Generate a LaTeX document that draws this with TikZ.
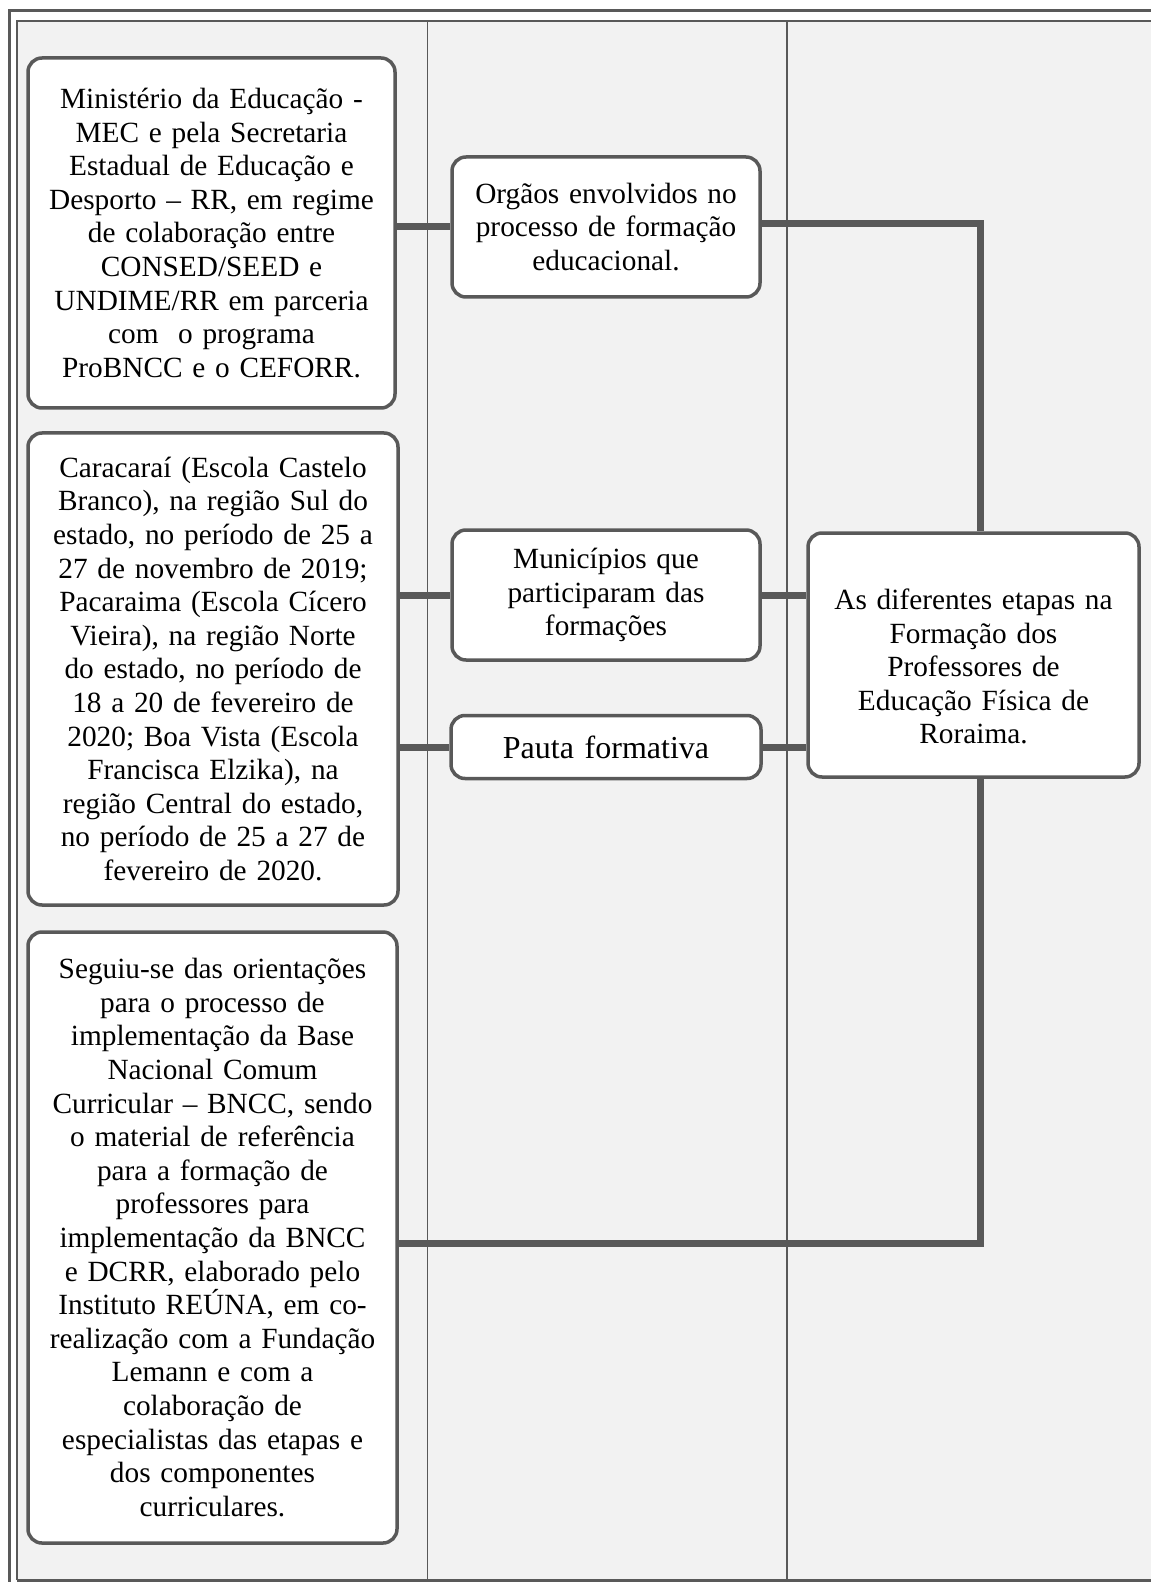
\documentclass[tikz,border=0pt]{standalone}
\usepackage{fontspec}
\setmainfont{Liberation Serif}
\usetikzlibrary{positioning,calc}
\definecolor{linegray}{HTML}{595959}
\definecolor{panelgray}{HTML}{F2F2F2}

\begin{document}
\begin{tikzpicture}[x=0.5pt, y=-0.5pt,
    box/.style={rectangle, draw=linegray, line width=1.75pt, rounded corners=7pt, fill=white,
        align=center, inner xsep=4pt, inner ysep=0pt, font=\fontsize{14.65}{16.8}\selectfont},
    link/.style={draw=linegray, line width=3.5pt}]
    \useasboundingbox (0,0) rectangle (1151,1582);

    % Frame and columns
    \fill[panelgray] (17,21) rectangle (1151,1580);
    \draw[linegray, line width=1.5pt] (9,1582) -- (9,11) -- (1151,11);
    \draw[linegray, line width=1pt] (17,1580) -- (17,21) -- (1151,21);
    \draw[linegray, line width=1.25pt] (17,1580.5) -- (1151,1580.5);
    \draw[linegray, line width=0.75pt] (427.5,21) -- (427.5,1580);
    \draw[linegray, line width=0.75pt] (787,21) -- (787,1580);

    % Nodes
    \node (mec) [box, text width=175.5pt, minimum height=175pt] at (211.5,233) {Ministério da Educação -\\ MEC e pela Secretaria\\ Estadual de Educação e\\ Desporto – RR, em regime\\ de colaboração entre\\ CONSED/SEED e\\ UNDIME/RR em parceria\\ com\ \ o programa\\ ProBNCC e o CEFORR.};
    \node (caracarai) [box, text width=177pt, minimum height=236pt] at (213,669) {Caracaraí (Escola Castelo\\ Branco), na região Sul do\\ estado, no período de 25 a\\ 27 de novembro de 2019;\\ Pacaraima (Escola Cícero\\ Vieira), na região Norte\\ do estado, no período de\\ 18 a 20 de fevereiro de\\ 2020; Boa Vista (Escola\\ Francisca Elzika), na\\ região Central do estado,\\ no período de 25 a 27 de\\ fevereiro de 2020.};
    \node (seguiu) [box, text width=176.5pt, minimum height=305.5pt] at (212.5,1237.5) {Seguiu-se das orientações\\ para o processo de\\ implementação da Base\\ Nacional Comum\\ Curricular – BNCC, sendo\\ o material de referência\\ para a formação de\\ professores para\\ implementação da BNCC\\ e DCRR, elaborado pelo\\ Instituto REÚNA, em co-\\ realização com a Fundação\\ Lemann e com a\\ colaboração de\\ especialistas das etapas e\\ dos componentes\\ curriculares.};

    \node (orgaos) [box, text width=146pt, minimum height=70pt] at (606,227) {Orgãos envolvidos no\\ processo de formação\\ educacional.};
    \node (municipios) [box, text width=146pt, minimum height=65pt] at (606,595) {Municípios que\\ participaram das\\ formações};
    \node (pauta) [box, below=26pt of municipios, text width=147pt, minimum height=31.5pt, font=\fontsize{16}{19}\selectfont] {Pauta formativa};

    \node (etapas) [box, text width=157.5pt, minimum height=122pt] at (973.5,655) {\rule{0pt}{22pt}As diferentes etapas na\\ Formação dos\\ Professores de\\ Educação Física de\\ Roraima.};

    % Connections
    \coordinate (spine) at (980,0);
    \draw[link] (orgaos.west -| mec.east) -- (orgaos.west);
    \draw[link] (municipios.west -| caracarai.east) -- (municipios.west);
    \draw[link] (pauta.west -| caracarai.east) -- (pauta.west);
    \draw[link] (municipios.east) -- (municipios.east -| etapas.west);
    \draw[link] (pauta.east) -- (pauta.east -| etapas.west);
    \draw[link] ([yshift=1.5pt]orgaos.east) -| (spine |- etapas.north);
    \draw[link] ([yshift=-3pt]seguiu.east) -| (spine |- etapas.south);

\end{tikzpicture}
\end{document}
